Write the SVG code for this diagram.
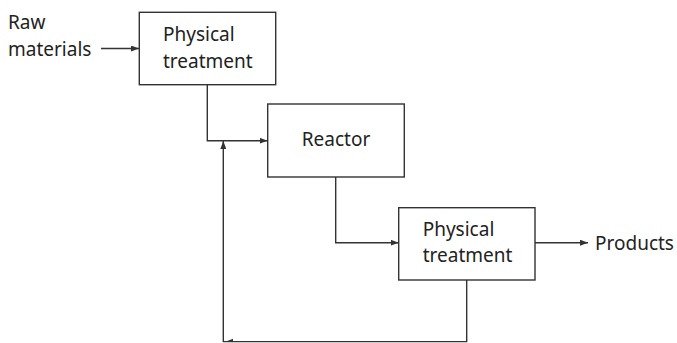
<svg xmlns="http://www.w3.org/2000/svg" width="677" height="343" viewBox="0 0 677 343">
<style>
.box{fill:#fff;stroke:#333;stroke-width:1.4}
.ln{fill:none;stroke:#333;stroke-width:1.4}
text{font-family:"Noto Sans","Open Sans",sans-serif;font-size:19px;fill:#222}
</style>
<defs>
<marker id="ah" viewBox="0 0 8 6" refX="8" refY="3" markerWidth="8" markerHeight="6" markerUnits="userSpaceOnUse" orient="auto">
<path d="M0,0 L8,3 L0,6 Z" fill="#333"/>
</marker>
</defs>
<g id="connectors">
<line class="ln" x1="101" y1="48.5" x2="139" y2="48.5" marker-end="url(#ah)"/>
<polyline class="ln" points="207.3,85 207.3,140.7 267.5,140.7" marker-end="url(#ah)"/>
<polyline class="ln" points="466.7,280 466.7,341.6 223.3,341.6 223.3,141" marker-end="url(#ah)"/>
<path d="M226,341.6 L233,338.8 L233,341.6 Z" fill="#333"/>
<polyline class="ln" points="335.7,177 335.7,242.7 398.7,242.7" marker-end="url(#ah)"/>
<line class="ln" x1="535" y1="242.7" x2="588" y2="242.7" marker-end="url(#ah)"/>
</g>
<g id="raw">
<text x="8" y="29">Raw</text>
<text x="8" y="56">materials</text>
</g>
<g id="pt1">
<rect class="box" x="139.3" y="12.3" width="136.4" height="72.4"/>
<text x="163" y="41">Physical</text>
<text x="163" y="68">treatment</text>
</g>
<g id="reactor">
<rect class="box" x="267.7" y="104" width="136.6" height="73"/>
<text x="336" y="146" text-anchor="middle">Reactor</text>
</g>
<g id="pt2">
<rect class="box" x="398.7" y="207.7" width="136.3" height="72.3"/>
<text x="422.7" y="236">Physical</text>
<text x="422.7" y="262">treatment</text>
</g>
<g id="products">
<text x="595" y="250">Products</text>
</g>
</svg>
